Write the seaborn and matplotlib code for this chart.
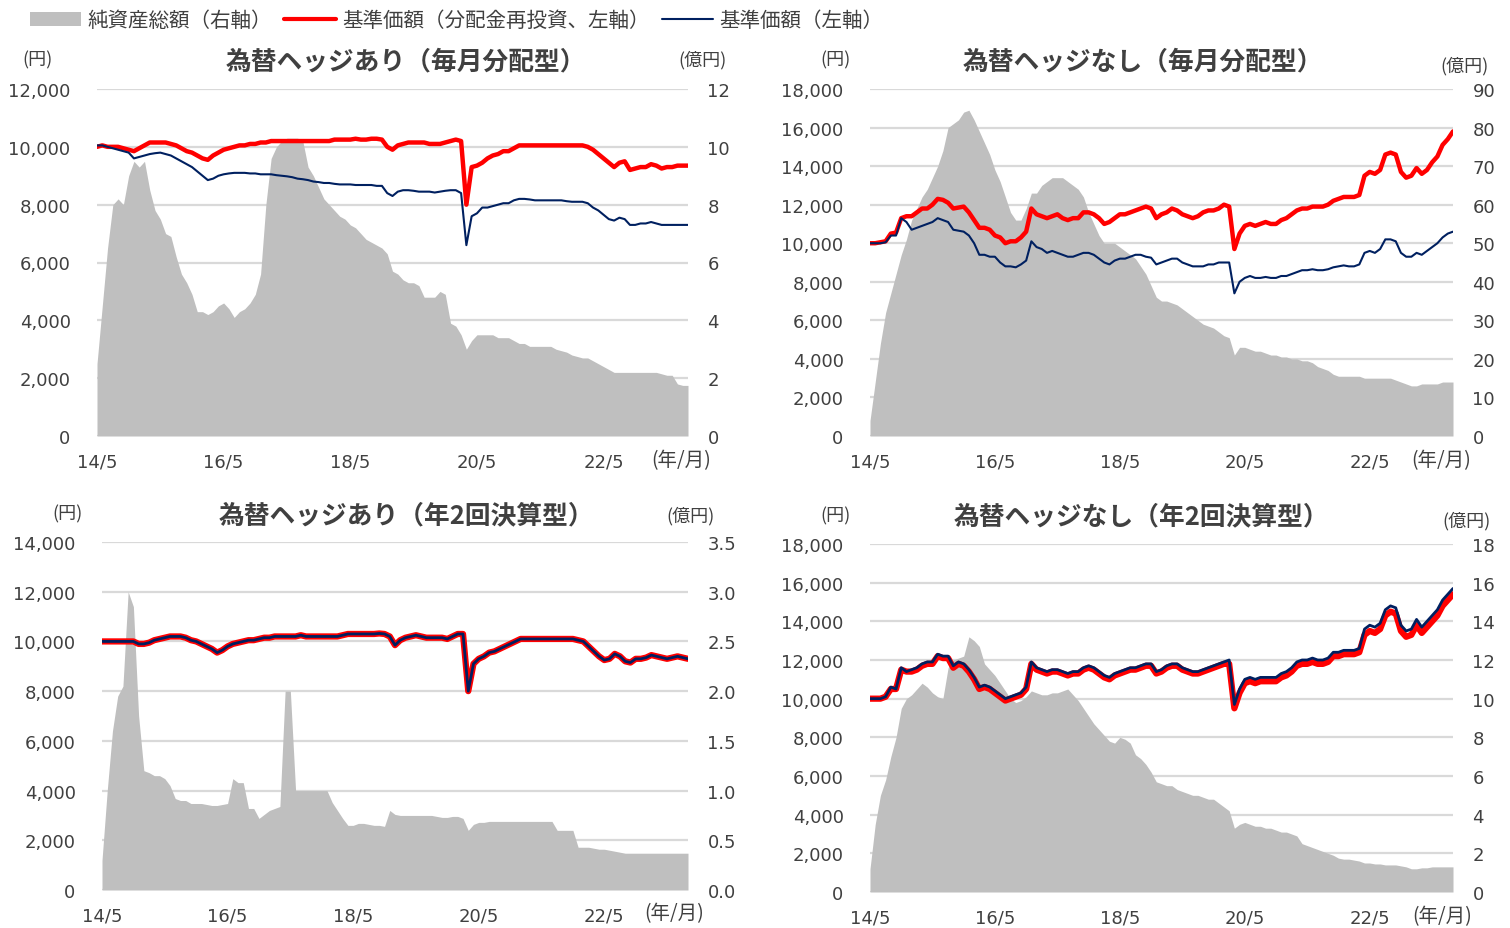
import matplotlib.pyplot as plt
import matplotlib.ticker as mticker
from matplotlib.patches import Patch
from matplotlib.lines import Line2D
import numpy as np
import seaborn as sns

# monthly points, 2014/5 .. 2023/9
months = np.arange(113)
tick_months = [0, 24, 48, 72, 96]
tick_labels = ['14/5', '16/5', '18/5', '20/5', '22/5']

# --- 為替ヘッジあり（毎月分配型） ---
h_m_assets = [2.5, 4.5, 6.5, 8.0, 8.2, 8.0, 9.0, 9.5, 9.3, 9.5,
              8.5, 7.8, 7.5, 7.0, 6.9, 6.2, 5.6, 5.3, 4.9, 4.3,
              4.3, 4.2, 4.3, 4.5, 4.6, 4.4, 4.1, 4.3, 4.4, 4.6,
              4.9, 5.6, 8.0, 9.6, 10.0, 10.2, 10.3, 10.3, 10.3, 10.2,
              9.3, 9.0, 8.6, 8.2, 8.0, 7.8, 7.6, 7.5, 7.3, 7.2,
              7.0, 6.8, 6.7, 6.6, 6.5, 6.3, 5.7, 5.6, 5.4, 5.3,
              5.3, 5.2, 4.8, 4.8, 4.8, 5.0, 4.9, 3.9, 3.8, 3.5,
              3.0, 3.3, 3.5, 3.5, 3.5, 3.5, 3.4, 3.4, 3.4, 3.3,
              3.2, 3.2, 3.1, 3.1, 3.1, 3.1, 3.1, 3.0, 2.95, 2.9,
              2.8, 2.75, 2.7, 2.7, 2.6, 2.5, 2.4, 2.3, 2.2, 2.2,
              2.2, 2.2, 2.2, 2.2, 2.2, 2.2, 2.2, 2.15, 2.1, 2.1,
              1.8, 1.75, 1.75]
h_m_reinv = [10000, 10050, 10000, 10000, 10000, 9950, 9900, 9850, 9950, 10050,
             10150, 10150, 10150, 10150, 10100, 10050, 9950, 9850, 9800, 9700,
             9600, 9550, 9700, 9800, 9900, 9950, 10000, 10050, 10050, 10100,
             10100, 10150, 10150, 10200, 10200, 10200, 10200, 10200, 10200, 10200,
             10200, 10200, 10200, 10200, 10200, 10250, 10250, 10250, 10250, 10280,
             10250, 10250, 10280, 10280, 10250, 10000, 9900, 10050, 10100, 10150,
             10150, 10150, 10150, 10100, 10100, 10100, 10150, 10200, 10250, 10200,
             8000, 9300, 9350, 9450, 9600, 9700, 9750, 9850, 9850, 9950,
             10050, 10050, 10050, 10050, 10050, 10050, 10050, 10050, 10050, 10050,
             10050, 10050, 10050, 10000, 9900, 9750, 9600, 9450, 9300, 9450,
             9500, 9200, 9250, 9300, 9300, 9400, 9350, 9250, 9300, 9300,
             9350, 9350, 9350]
h_m_nav = [10050, 10050, 10000, 9950, 9900, 9850, 9800, 9600, 9650, 9700,
           9750, 9780, 9800, 9750, 9700, 9600, 9500, 9400, 9300, 9150,
           9000, 8850, 8900, 9000, 9050, 9080, 9100, 9100, 9100, 9080,
           9080, 9050, 9050, 9050, 9020, 9000, 8980, 8950, 8900, 8880,
           8850, 8800, 8780, 8750, 8750, 8720, 8700, 8700, 8700, 8680,
           8680, 8680, 8680, 8650, 8650, 8400, 8300, 8450, 8500, 8500,
           8480, 8450, 8450, 8450, 8420, 8450, 8480, 8500, 8500, 8400,
           6600, 7600, 7700, 7900, 7900, 7950, 8000, 8050, 8050, 8150,
           8200, 8200, 8180, 8150, 8150, 8150, 8150, 8150, 8150, 8120,
           8100, 8100, 8100, 8050, 7900, 7800, 7650, 7500, 7450, 7550,
           7500, 7300, 7300, 7350, 7350, 7400, 7350, 7300, 7300, 7300,
           7300, 7300, 7300]

# --- 為替ヘッジなし（毎月分配型） ---
u_m_assets = [4, 14, 24, 32, 37, 42, 47, 51, 56, 59,
              62, 64, 67, 70, 74, 80, 81, 82, 84, 84.5,
              82, 79, 76, 73, 69, 66, 62, 58, 56, 56,
              59, 63, 63, 65, 66, 67, 67, 67, 66, 65,
              64, 62, 58, 55, 52, 50, 50, 50, 49, 48,
              47, 46, 44, 42, 39, 36, 35, 35, 34.5, 34,
              33, 32, 31, 30, 29, 28.5, 28, 27, 26, 25.5,
              21, 23, 23, 22.5, 22, 22, 21.5, 21, 21, 20.5,
              20.5, 20, 20, 19.5, 19.5, 19, 18, 17.5, 17, 16,
              15.5, 15.5, 15.5, 15.5, 15.5, 15, 15, 15, 15, 15,
              15, 14.5, 14, 13.5, 13, 13, 13.5, 13.5, 13.5, 13.5,
              14, 14, 14]
u_m_reinv = [10000, 10000, 10050, 10100, 10500, 10550, 11300, 11400, 11400, 11600,
             11800, 11800, 12000, 12300, 12250, 12100, 11800, 11850, 11900, 11600,
             11200, 10800, 10800, 10700, 10400, 10300, 10000, 10100, 10100, 10300,
             10600, 11800, 11500, 11400, 11300, 11400, 11500, 11300, 11200, 11300,
             11300, 11600, 11600, 11500, 11300, 11000, 11100, 11300, 11500, 11500,
             11600, 11700, 11800, 11900, 11800, 11300, 11500, 11600, 11800, 11700,
             11500, 11400, 11300, 11400, 11600, 11700, 11700, 11800, 12000, 11900,
             9700, 10500, 10900, 11000, 10900, 11000, 11100, 11000, 11000, 11200,
             11300, 11500, 11700, 11800, 11800, 11900, 11900, 11900, 12000, 12200,
             12300, 12400, 12400, 12400, 12500, 13500, 13700, 13600, 13800, 14600,
             14700, 14600, 13700, 13400, 13500, 13900, 13600, 13800, 14200, 14500,
             15100, 15400, 15800]
u_m_nav = [10000, 10000, 10000, 10050, 10400, 10400, 11300, 11100, 10700, 10800,
           10900, 11000, 11100, 11300, 11200, 11100, 10700, 10650, 10600, 10400,
           10000, 9400, 9400, 9300, 9300, 9000, 8800, 8800, 8750, 8900,
           9100, 10100, 9800, 9700, 9500, 9600, 9500, 9400, 9300, 9300,
           9400, 9500, 9500, 9400, 9200, 9000, 8900, 9100, 9200, 9200,
           9300, 9400, 9400, 9300, 9250, 8900, 9000, 9100, 9200, 9200,
           9000, 8900, 8800, 8800, 8800, 8900, 8900, 9000, 9000, 9000,
           7400, 8000, 8200, 8300, 8200, 8200, 8250, 8200, 8200, 8300,
           8300, 8400, 8500, 8600, 8600, 8650, 8600, 8600, 8650, 8750,
           8800, 8850, 8800, 8800, 8900, 9500, 9600, 9500, 9700, 10200,
           10200, 10100, 9500, 9300, 9300, 9500, 9400, 9600, 9800, 10000,
           10300, 10500, 10600]

# --- 為替ヘッジあり（年2回決算型） ---
h_s_assets = [0.3, 1.0, 1.6, 1.95, 2.05, 3.0, 2.85, 1.75, 1.2, 1.18,
              1.15, 1.15, 1.12, 1.05, 0.92, 0.9, 0.9, 0.87, 0.87, 0.87,
              0.86, 0.85, 0.85, 0.86, 0.87, 1.12, 1.08, 1.08, 0.82, 0.82,
              0.72, 0.76, 0.8, 0.82, 0.84, 2.0, 2.0, 1.0, 1.0, 1.0,
              1.0, 1.0, 1.0, 1.0, 0.88, 0.8, 0.72, 0.65, 0.65, 0.67,
              0.67, 0.66, 0.65, 0.65, 0.64, 0.8, 0.76, 0.75, 0.75, 0.75,
              0.75, 0.75, 0.75, 0.75, 0.74, 0.73, 0.73, 0.74, 0.74, 0.72,
              0.6, 0.66, 0.68, 0.68, 0.69, 0.69, 0.69, 0.69, 0.69, 0.69,
              0.69, 0.69, 0.69, 0.69, 0.69, 0.69, 0.69, 0.6, 0.6, 0.6,
              0.6, 0.43, 0.43, 0.43, 0.42, 0.41, 0.41, 0.40, 0.39, 0.38,
              0.37, 0.37, 0.37, 0.37, 0.37, 0.37, 0.37, 0.37, 0.37, 0.37,
              0.37, 0.37, 0.37]
h_s_reinv = [10000, 10000, 10000, 10000, 10000, 10000, 10000, 9900, 9900, 9950,
             10050, 10100, 10150, 10200, 10200, 10200, 10150, 10050, 10000, 9900,
             9800, 9700, 9550, 9650, 9800, 9900, 9950, 10000, 10050, 10050,
             10100, 10150, 10150, 10200, 10200, 10200, 10200, 10200, 10250, 10200,
             10200, 10200, 10200, 10200, 10200, 10200, 10250, 10300, 10300, 10300,
             10300, 10300, 10300, 10320, 10300, 10200, 9850, 10050, 10150, 10200,
             10250, 10200, 10150, 10150, 10150, 10150, 10100, 10200, 10300, 10300,
             8000, 9100, 9300, 9400, 9550, 9600, 9700, 9800, 9900, 10000,
             10100, 10100, 10100, 10100, 10100, 10100, 10100, 10100, 10100, 10100,
             10100, 10050, 10000, 9800, 9600, 9400, 9250, 9300, 9500, 9400,
             9200, 9150, 9300, 9300, 9350, 9450, 9400, 9350, 9300, 9350,
             9400, 9350, 9300]
h_s_nav = [10000, 10000, 10000, 10000, 10000, 10000, 10000, 9900, 9900, 9950,
           10050, 10100, 10150, 10200, 10200, 10200, 10150, 10050, 10000, 9900,
           9800, 9700, 9550, 9650, 9800, 9900, 9950, 10000, 10050, 10050,
           10100, 10150, 10150, 10200, 10200, 10200, 10200, 10200, 10250, 10200,
           10200, 10200, 10200, 10200, 10200, 10200, 10250, 10300, 10300, 10300,
           10300, 10300, 10300, 10320, 10300, 10200, 9850, 10050, 10150, 10200,
           10250, 10200, 10150, 10150, 10150, 10150, 10100, 10200, 10300, 10300,
           8000, 9100, 9300, 9400, 9550, 9600, 9700, 9800, 9900, 10000,
           10100, 10100, 10100, 10100, 10100, 10100, 10100, 10100, 10100, 10100,
           10100, 10050, 10000, 9800, 9600, 9400, 9250, 9300, 9500, 9400,
           9200, 9150, 9300, 9300, 9350, 9450, 9400, 9350, 9300, 9350,
           9400, 9350, 9300]

# --- 為替ヘッジなし（年2回決算型） ---
u_s_assets = [1.2, 3.5, 5.0, 5.8, 7.0, 8.0, 9.5, 10.0, 10.2, 10.5,
              10.8, 10.6, 10.3, 10.1, 10.0, 11.6, 12.0, 12.1, 12.2, 13.2,
              13.0, 12.7, 11.8, 11.5, 11.2, 10.8, 10.4, 10.0, 9.8, 9.9,
              10.1, 10.4, 10.3, 10.2, 10.2, 10.3, 10.3, 10.4, 10.5, 10.2,
              9.9, 9.5, 9.1, 8.7, 8.4, 8.1, 7.8, 7.7, 8.0, 7.9,
              7.7, 7.1, 6.9, 6.6, 6.2, 5.7, 5.6, 5.5, 5.5, 5.3,
              5.2, 5.1, 5.0, 5.0, 4.9, 4.8, 4.8, 4.6, 4.4, 4.2,
              3.3, 3.5, 3.6, 3.5, 3.4, 3.4, 3.3, 3.3, 3.2, 3.1,
              3.1, 3.0, 2.9, 2.5, 2.4, 2.3, 2.2, 2.1, 2.0, 1.9,
              1.75, 1.7, 1.7, 1.65, 1.6, 1.5, 1.5, 1.45, 1.45, 1.4,
              1.4, 1.4, 1.35, 1.3, 1.2, 1.2, 1.25, 1.25, 1.3, 1.3,
              1.3, 1.3, 1.3]
u_s_reinv = [10000, 10000, 10000, 10100, 10500, 10500, 11500, 11400, 11400, 11500,
             11700, 11800, 11800, 12200, 12100, 12100, 11600, 11800, 11700, 11400,
             11000, 10500, 10600, 10500, 10300, 10100, 9900, 10000, 10100, 10200,
             10500, 11800, 11500, 11400, 11300, 11400, 11400, 11300, 11200, 11300,
             11300, 11500, 11600, 11500, 11300, 11100, 11000, 11200, 11300, 11400,
             11500, 11500, 11600, 11700, 11700, 11300, 11400, 11600, 11700, 11700,
             11500, 11400, 11300, 11300, 11400, 11500, 11600, 11700, 11800, 11800,
             9500, 10300, 10800, 10900, 10800, 10900, 10900, 10900, 10900, 11100,
             11200, 11400, 11700, 11800, 11800, 11900, 11800, 11800, 11900, 12200,
             12200, 12300, 12300, 12300, 12400, 13300, 13500, 13400, 13600, 14300,
             14500, 14400, 13500, 13200, 13300, 13800, 13400, 13700, 14000, 14300,
             14800, 15100, 15400]
u_s_nav = [10000, 10000, 10000, 10100, 10600, 10500, 11600, 11400, 11500, 11600,
           11800, 11900, 11900, 12300, 12200, 12200, 11700, 11900, 11800, 11500,
           11100, 10600, 10700, 10600, 10400, 10200, 10000, 10100, 10200, 10300,
           10600, 11900, 11600, 11500, 11400, 11500, 11500, 11400, 11300, 11400,
           11400, 11600, 11700, 11600, 11400, 11200, 11100, 11300, 11400, 11500,
           11600, 11600, 11700, 11800, 11800, 11400, 11500, 11700, 11800, 11800,
           11600, 11500, 11400, 11400, 11500, 11600, 11700, 11800, 11900, 12000,
           9700, 10500, 11000, 11100, 11000, 11100, 11100, 11100, 11100, 11300,
           11400, 11600, 11900, 12000, 12000, 12100, 12000, 12000, 12100, 12400,
           12400, 12500, 12500, 12500, 12600, 13600, 13800, 13700, 13900, 14600,
           14800, 14700, 13800, 13500, 13600, 14100, 13700, 14000, 14300, 14600,
           15100, 15400, 15700]

GREY = '#bfbfbf'
RED = '#ff0000'
NAVY = '#002060'
GRID = '#d9d9d9'
TXT = '#404040'

sns.set_theme(style='white')
plt.rcParams['font.family'] = ['DejaVu Sans', 'Noto Sans CJK JP']

W, H = 1510, 929
fig = plt.figure(figsize=(W / 100, H / 100), dpi=100)


def box(x0, x1, ytop, ybot):
    return [x0 / W, 1 - ybot / H, (x1 - x0) / W, (ybot - ytop) / H]


panels = [
    dict(rect=box(97, 688, 90, 437), title='為替ヘッジあり（毎月分配型）', tpos=(406, 62),
         yen=(38, 60), oku=(703, 60), ym=(681, 461),
         assets=h_m_assets, reinv=h_m_reinv, nav=h_m_nav,
         lmax=12000, rmax=12, rstep=2, rfmt='{:.0f}', lw=(3.2, 1.5)),
    dict(rect=box(870, 1453, 90, 437), title='為替ヘッジなし（毎月分配型）', tpos=(1143, 62),
         yen=(836, 60), oku=(1465, 66), ym=(1441, 461),
         assets=u_m_assets, reinv=u_m_reinv, nav=u_m_nav,
         lmax=18000, rmax=90, rstep=10, rfmt='{:.0f}', lw=(3.2, 1.5)),
    dict(rect=box(102, 688, 543, 891), title='為替ヘッジあり（年2回決算型）', tpos=(406, 516),
         yen=(68, 514), oku=(690, 516), ym=(674, 914),
         assets=h_s_assets, reinv=h_s_reinv, nav=h_s_nav,
         lmax=14000, rmax=3.5, rstep=0.5, rfmt='{:.1f}', lw=(4.5, 2.0)),
    dict(rect=box(870, 1453, 545, 893), title='為替ヘッジなし（年2回決算型）', tpos=(1141, 517),
         yen=(836, 516), oku=(1466, 521), ym=(1442, 917),
         assets=u_s_assets, reinv=u_s_reinv, nav=u_s_nav,
         lmax=18000, rmax=18, rstep=2, rfmt='{:.0f}', lw=(4.5, 2.0)),
]

for p in panels:
    ax = fig.add_axes(p['rect'])
    ax2 = ax.twinx()
    ax.set_zorder(ax2.get_zorder() + 1)
    ax.patch.set_visible(False)

    # net assets (right axis)
    ax2.fill_between(months, 0, p['assets'], color=GREY, linewidth=0, zorder=2)
    ax2.set_ylim(0, p['rmax'])
    rticks = np.arange(0, p['rmax'] + 1e-9, p['rstep'])
    ax2.set_yticks(rticks)
    ax2.set_yticklabels([p['rfmt'].format(v) for v in rticks])
    ax2.grid(axis='y', color=GRID, linewidth=1.6)
    ax2.grid(axis='x', visible=False)
    ax2.set_axisbelow(True)
    ax2.tick_params(axis='y', length=0, pad=14, labelsize=13, labelcolor=TXT)

    # NAV lines (left axis)
    sns.lineplot(x=months, y=p['reinv'], ax=ax, color=RED, linewidth=p['lw'][0])
    sns.lineplot(x=months, y=p['nav'], ax=ax, color=NAVY, linewidth=p['lw'][1])
    ax.set_ylim(0, p['lmax'])
    ax.yaxis.set_major_locator(mticker.MultipleLocator(2000))
    ax.yaxis.set_major_formatter(mticker.FuncFormatter(lambda v, _: f'{v:,.0f}'))
    ax.tick_params(axis='y', length=0, pad=19, labelsize=13, labelcolor=TXT)

    ax.set_xlim(0, 112)
    ax.set_xticks(tick_months)
    ax.set_xticklabels(tick_labels)
    ax.tick_params(axis='x', direction='in', length=5, width=1.2, color=GRID,
                   pad=12, labelsize=13, labelcolor=TXT)
    ax.grid(False)
    for a in (ax, ax2):
        for s in a.spines.values():
            s.set_visible(False)
    ax.set_xlabel('')
    ax.set_ylabel('')

    fig.text(p['tpos'][0] / W, 1 - p['tpos'][1] / H, p['title'], ha='center', va='center',
             fontsize=18.5, fontweight='bold', color=TXT, family=['Noto Sans CJK JP'])
    fig.text(p['yen'][0] / W, 1 - p['yen'][1] / H, '(円)', ha='center', va='center',
             fontsize=13, color=TXT, family=['Noto Sans CJK JP'])
    fig.text(p['oku'][0] / W, 1 - p['oku'][1] / H, '(億円)', ha='center', va='center',
             fontsize=13, color=TXT, family=['Noto Sans CJK JP'])
    fig.text(p['ym'][0] / W, 1 - p['ym'][1] / H, '(年/月)', ha='center', va='center',
             fontsize=14, color=TXT, family=['Noto Sans CJK JP'])

handles = [Patch(facecolor=GREY, edgecolor='none'),
           Line2D([], [], color=RED, linewidth=3),
           Line2D([], [], color=NAVY, linewidth=1.5)]
labels = ['純資産総額（右軸）', '基準価額（分配金再投資、左軸）', '基準価額（左軸）']
fig.legend(handles, labels, loc='center left', bbox_to_anchor=(30 / W, 1 - 21 / H),
           ncol=3, frameon=False, borderaxespad=0, borderpad=0,
           handlelength=2.5, handleheight=0.7, handletextpad=0.3, columnspacing=0.6,
           prop={'family': ['Noto Sans CJK JP'], 'size': 14.8}, labelcolor=TXT)

fig.savefig('out.png', dpi=100, facecolor='white')
